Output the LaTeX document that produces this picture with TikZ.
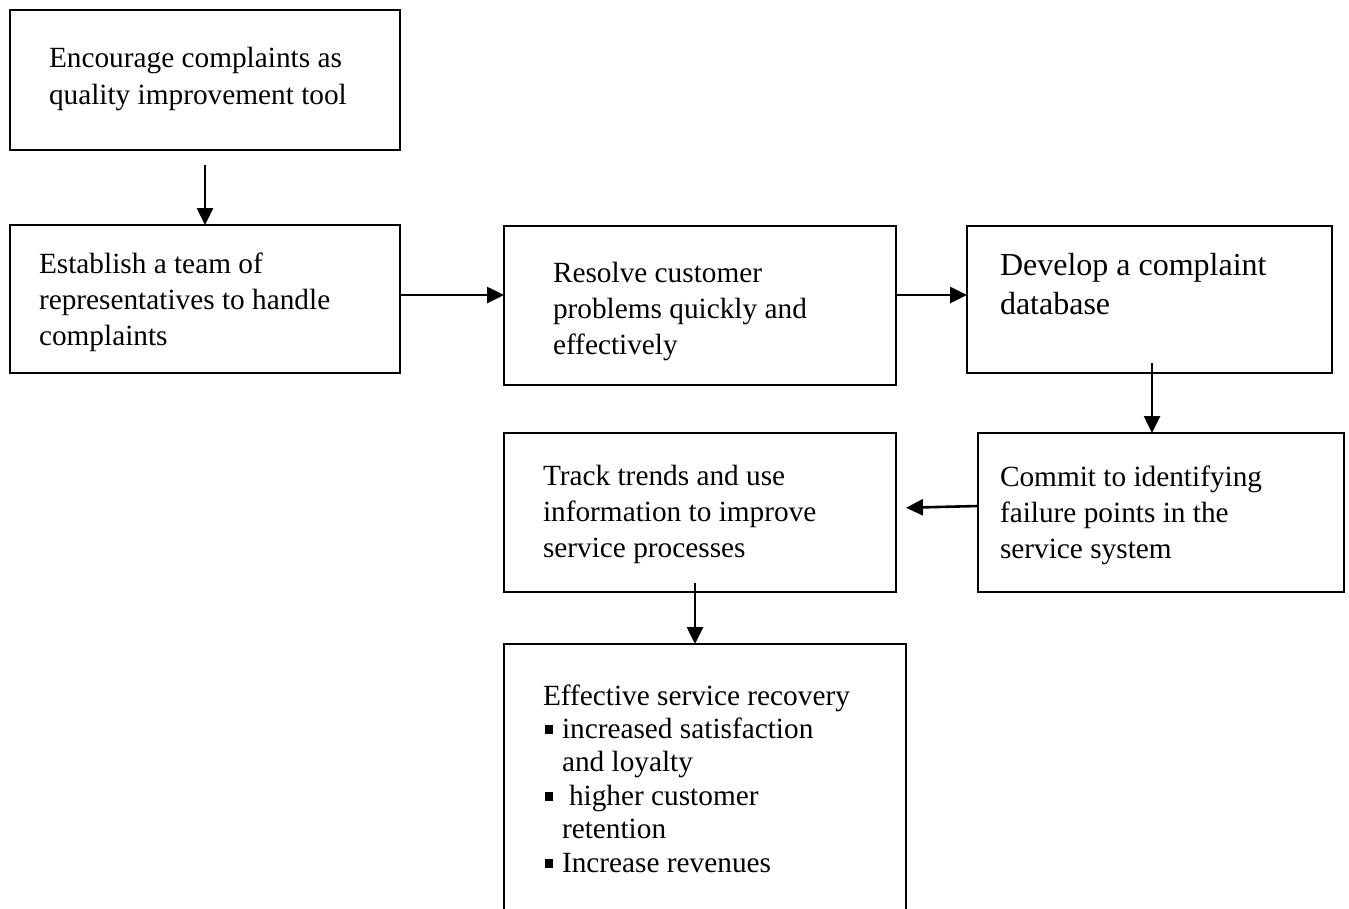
\documentclass[tikz,border=0pt]{standalone}
\usepackage{fontspec}
\setmainfont{Liberation Serif}
\usetikzlibrary{arrows.meta}
\newcommand\sqbul{\makebox[19pt][l]{\hspace*{1.5pt}\rule[4.5pt]{8.5pt}{8.5pt}}}
\newcommand\topstrut{\rule{0pt}{23pt}}
\begin{document}
\begin{tikzpicture}[x=1pt,y=-1pt,
  box/.style={draw=black, line width=2pt, rectangle, inner sep=0pt, outer sep=0pt, anchor=north west},
  txt/.style={anchor=north west, inner sep=0pt, outer sep=0pt, align=left,
    font=\fontsize{29.3}{36.3}\selectfont},
  arr/.style={line width=2.6pt, -{Triangle[length=17pt,width=16pt]}}]
\useasboundingbox (0,0) rectangle (1349,908);
\fill[white] (0,0) rectangle (1349,908);
\clip (0,0) rectangle (1349,908);

% boxes
\node[box, minimum width=390pt, minimum height=140pt] (b1) at (10,10) {};
\node[box, minimum width=390pt, minimum height=148pt] (b2) at (10,225) {};
\node[box, minimum width=392pt, minimum height=159pt] (b3) at (504,226) {};
\node[box, minimum width=365pt, minimum height=147pt] (b4) at (967,226) {};
\node[box, minimum width=366pt, minimum height=159pt] (b5) at (978,433) {};
\node[box, minimum width=392pt, minimum height=159pt] (b6) at (504,433) {};
\node[box, minimum width=402pt, minimum height=290pt] (b7) at (504,644) {};

% texts
\node[txt, font=\fontsize{29.3}{37}\selectfont] (t1) at (49,44)
  {\topstrut Encourage complaints as\\quality improvement tool};
\node[txt] (t2) at (39,250)
  {\topstrut Establish a team of\\representatives to handle\\complaints};
\node[txt] (t3) at (553,259)
  {\topstrut Resolve customer\\problems quickly and\\effectively};
\node[txt, font=\fontsize{32}{39}\selectfont] (t4) at (1000,252)
  {\topstrut Develop a complaint\\database};
\node[txt] (t5) at (1000,463)
  {\topstrut Commit to identifying\\failure points in the\\service system};
\node[txt] (t6) at (543,462)
  {\topstrut Track trends and use\\information to improve\\service processes};
\node[txt, font=\fontsize{29.3}{33.4}\selectfont] (t7) at (543,682)
  {\topstrut Effective service recovery\\
   \sqbul increased satisfaction\\
   \hspace*{19pt}and loyalty\\
   \sqbul\hspace*{7pt}higher customer\\
   \hspace*{19pt}retention\\
   \sqbul Increase revenues};

% connectors
\draw[arr, shorten <=15pt] (b1.south) -- (b2.north);
\draw[arr] ([yshift=4pt]b2.east) -- ([yshift=4pt]b2.east -| b3.west);
\draw[arr] ([yshift=10.5pt]b3.east) -- ([yshift=10.5pt]b3.east -| b4.west);
\draw[arr] ([xshift=2.5pt,yshift=10pt]b4.south) -- ([xshift=2.5pt]b4.south |- b5.north);
\draw[arr, shorten >=10pt] ([yshift=6.5pt]b5.west) -- ([yshift=4.5pt]b6.east);
\draw[arr] ([xshift=-5pt,yshift=9pt]b6.south) -- ([xshift=-5pt]b6.south |- b7.north);
\end{tikzpicture}
\end{document}
